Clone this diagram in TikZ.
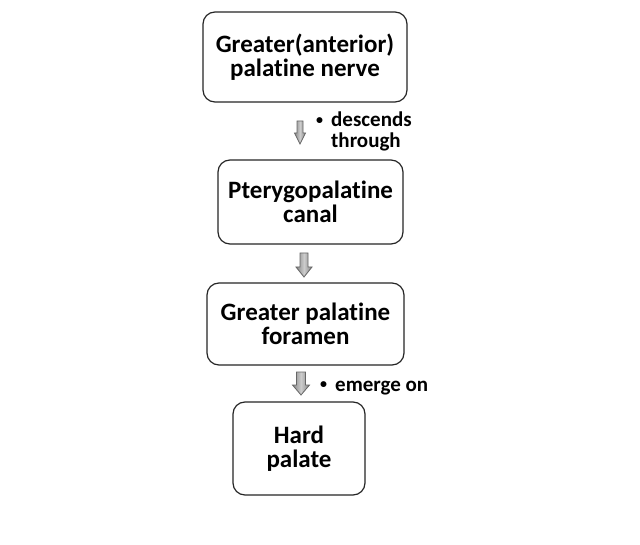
\documentclass[tikz,border=0pt]{standalone}
\usepackage{fontspec}
\setmainfont[Ligatures=NoCommon]{Carlito}
\usetikzlibrary{calc}
\tikzset{
  box/.style={draw=black!85, line width=1.2pt, rounded corners=12pt, fill=white,
    font=\bfseries\fontsize{25}{23.5}\selectfont, align=center, inner sep=0pt},
  note/.style={font=\bfseries\fontsize{21}{19.5}\selectfont, anchor=base west, inner sep=0pt},
  blockarrow/.style={draw=black!60, line width=0.8pt, left color=gray!95, right color=gray!95, middle color=gray!40, shading angle=90}
}
\newcommand\smallbul{\makebox[15pt][l]{\raisebox{2.2pt}{\fontsize{14}{14}\selectfont\textbullet}}}
\newcommand\blockdown[5]{%
  \path[blockarrow] let \p1=(#1), \p2=(#2) in
    ({\x1-#3pt},\y1) -- ({\x1+#3pt},\y1) -- ({\x1+#3pt},{\y2+#5pt}) -- ({\x1+#4pt},{\y2+#5pt})
    -- (\x1,\y2) -- ({\x1-#4pt},{\y2+#5pt}) -- ({\x1-#3pt},{\y2+#5pt}) -- cycle;}
\begin{document}
\begin{tikzpicture}[x=1pt,y=-1pt]
\useasboundingbox[fill=white] (0,0) rectangle (640,545);
\node[box, minimum width=204pt, minimum height=90pt] (b1) at (305,57) {Greater(anterior)\\palatine nerve};
\node[box, minimum width=185pt, minimum height=84pt] (b2) at (310.5,202) {Pterygopalatine\\canal};
\node[box, minimum width=197pt, minimum height=82pt] (b3) at (305.5,324) {Greater palatine\\foramen};
\node[box, minimum width=132pt, minimum height=93pt] (b4) at (299,448.5) {Hard\\palate};
\coordinate (a1t) at (300,121); \coordinate (a1b) at (300,144);
\coordinate (a2t) at (304,253); \coordinate (a2b) at (304,277);
\coordinate (a3t) at (301,372); \coordinate (a3b) at (301,395);
\blockdown{a1t}{a1b}{3}{5.5}{11}
\blockdown{a2t}{a2b}{4}{8}{10}
\blockdown{a3t}{a3b}{4.5}{8.5}{10}
\node[note] (l1) at (316,127) {\begin{tabular}[t]{@{}l@{}l@{}}\smallbul & descends\\ & through\end{tabular}};
\node[note] (l2) at (320,391) {\smallbul emerge on};
\end{tikzpicture}
\end{document}
